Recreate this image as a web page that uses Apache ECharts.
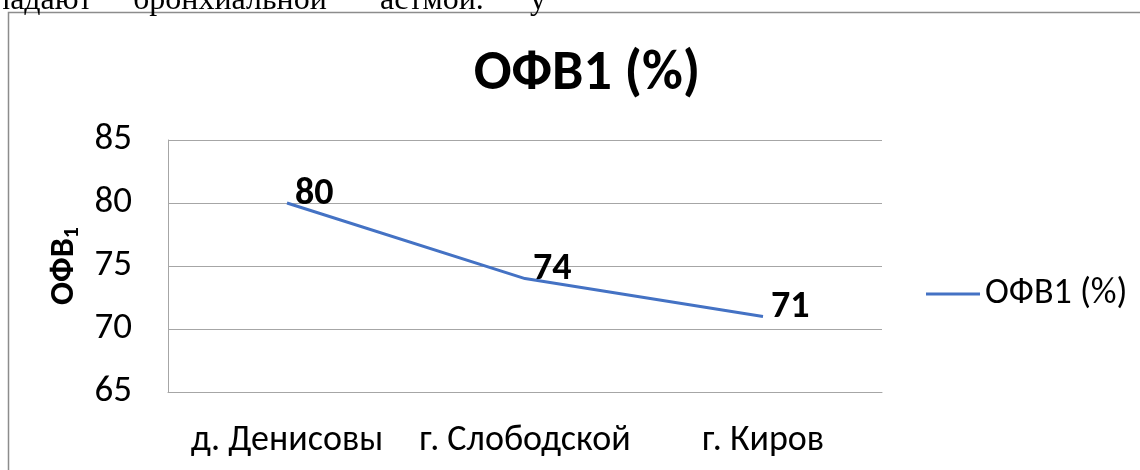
<!DOCTYPE html>
<html><head><meta charset="utf-8">
<script src="https://cdn.jsdelivr.net/npm/echarts@6/dist/echarts.min.js"></script>
<style>html,body{margin:0;padding:0;background:#fff}#c{width:1140px;height:470px}</style>
</head><body><div id="c"></div>
<script>
const categories = ['д. Денисовы', 'г. Слободской', 'г. Киров'];
const values = [80, 74, 71];
const seriesName = 'ОФВ1 (%)';
const yTicks = [65, 70, 75, 80, 85];
const F = 'Carlito, "Open Sans", "Noto Sans", sans-serif';
const S = '"Liberation Serif", serif';
const chart = echarts.init(document.getElementById('c'));
chart.setOption({
  animation: false,
  backgroundColor: '#fff',
  title: { text: 'ОФВ1 (%)', left: 582, textAlign: 'center', top: 42,
    textStyle: { fontFamily: F, fontWeight: 'bold', fontSize: 56, color: '#000' } },
  legend: { data: [seriesName], left: 921, top: 271, itemWidth: 54, itemHeight: 3, itemGap: 0,
    icon: 'rect', itemStyle: { color: '#4472C4', opacity: 1 },
    textStyle: { fontFamily: F, fontSize: 36, color: '#000', padding: [0,0,0,0] } },
  grid: { left: 168, right: 258, top: 140, bottom: 78 },
  xAxis: { type: 'category', data: categories, boundaryGap: true,
    axisLine: { lineStyle: { color: '#a6a6a6', width: 1 } }, axisTick: { show: false },
    axisLabel: { fontFamily: F, fontSize: 36, color: '#000', margin: 31, interval: 0 } },
  yAxis: { type: 'value', min: yTicks[0], max: yTicks[yTicks.length-1], interval: 5,
    axisLine: { show: true, lineStyle: { color: '#a6a6a6', width: 1 } }, axisTick: { show: false },
    splitLine: { lineStyle: { color: '#a6a6a6', width: 1 } },
    axisLabel: { fontFamily: F, fontSize: 37, color: '#000', margin: 36 },
    name: '{a|ОФВ}{b|1}', nameLocation: 'middle', nameRotate: 90, nameGap: 84,
    nameTextStyle: { rich: {
      a: { fontFamily: F, fontSize: 34, fontWeight: 'bold', color: '#000' },
      b: { fontFamily: F, fontSize: 22, fontWeight: 'bold', color: '#000', padding: [16,0,0,0] } } } },
  series: [{ name: seriesName, type: 'line', data: values, symbol: 'circle', symbolSize: 0.1, showSymbol: true,
    lineStyle: { color: '#4472C4', width: 3 }, itemStyle: { color: '#4472C4' },
    label: { show: true, position: 'right', distance: 8, offset: [0, -9],
      fontFamily: F, fontSize: 38, fontWeight: 'bold', color: '#000' } }],
  graphic: [
    { type: 'rect', shape: { x: 8.5, y: 12.5, width: 1300, height: 600 }, style: { fill: 'none', stroke: '#8c8c8c', lineWidth: 1.5 }, z: 0 },
    { type: 'text', x: -7, y: 17, style: { text: 'падают', font: '32px ' + S, fill: '#000', verticalAlign: 'bottom' } },
    { type: 'text', x: 133, y: 17, style: { text: 'бронхиальной', font: '32px ' + S, fill: '#000', verticalAlign: 'bottom' } },
    { type: 'text', x: 380, y: 17, style: { text: 'астмой.', font: '32px ' + S, fill: '#000', verticalAlign: 'bottom' } },
    { type: 'text', x: 530, y: 17, style: { text: 'у', font: '32px ' + S, fill: '#000', verticalAlign: 'bottom' } }
  ]
});
</script></body></html>
